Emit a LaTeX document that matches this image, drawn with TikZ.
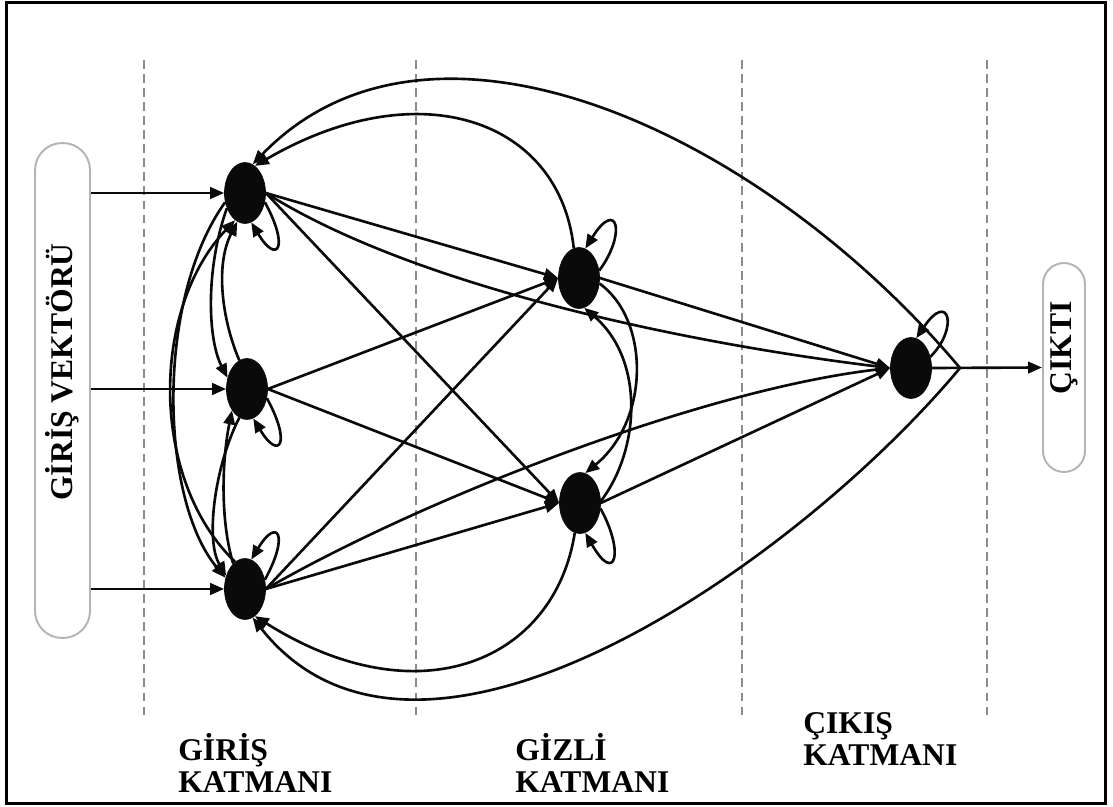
\documentclass[tikz,border=0pt]{standalone}
\usepackage{fontspec}
\setmainfont{Liberation Serif}
\usetikzlibrary{arrows.meta,shapes.geometric,calc}
\definecolor{Ink}{HTML}{0A0A0A}
\definecolor{Rule}{HTML}{8C8C8C}
\definecolor{Shell}{HTML}{B4B4B4}
\tikzset{
 neuron/.style={ellipse,fill=Ink,draw=Ink,minimum width=0.82cm,minimum height=1.22cm,inner sep=0pt},
 vecbox/.style={draw=Shell,line width=1.1pt,fill=white,inner sep=0pt},
 vectext/.style={rotate=90,font=\fontsize{18}{19}\selectfont\bfseries,inner sep=0pt},
 lbl/.style={font=\fontsize{18}{18.5}\selectfont\bfseries,align=left,inner sep=0pt,anchor=north west},
 arr/.style={-{Triangle[length=2.8mm,width=2.3mm]},line width=1.5pt,draw=Ink},
 guide/.style={draw=Rule,dashed,dash pattern=on 5pt off 3pt,line width=0.9pt}
}
\begin{document}
\begin{tikzpicture}[x=0.02cm,y=0.02cm]
\useasboundingbox (0,0) rectangle (1113,-807);
\draw[line width=1.7pt] (6.5,-2.5) rectangle (1105.5,-803.5);
\foreach \x in {144,416,742,987} \draw[guide] (\x,-60) -- (\x,-718);
\node[vecbox,rounded corners=0.54cm,minimum width=1.1cm,minimum height=9.9cm] (vec) at (62.5,-390.5) {};
\node[vectext] (vectxt) at (62,-372) {GİRİŞ VEKTÖRÜ};
\node[vecbox,rounded corners=0.42cm,minimum width=0.84cm,minimum height=4.18cm] (out) at (1064,-367.5) {};
\node[vectext] (outtxt) at (1064,-348) {ÇIKTI};
\node[neuron] (i1) at (245,-193) {};
\node[neuron] (i2) at (247,-389) {};
\node[neuron] (i3) at (245,-589) {};
\node[neuron] (h1) at (579,-278) {};
\node[neuron] (h2) at (580,-503) {};
\node[neuron] (o) at (911,-368) {};
\coordinate (tap) at (960,-368);
\foreach \n in {i1,i2,i3} \draw[arr] (vec.east |- \n) -- (\n.west);
\foreach \a/\b in {i1/h1,i1/h2,i2/h1,i2/h2,i3/h1,i3/h2,h1/o,h2/o} \draw[arr] (\a.east) -- (\b.west);
\draw[arr] (i1.east) .. controls (420,-290) and (700,-345) .. (o.west);
\draw[arr] (i3.east) .. controls (420,-500) and (700,-390) .. (o.west);
\draw[arr] (o.east) -- (out.west);
\draw[arr] (tap) .. controls (760,-130) and (430,20) .. (i1.75);
\draw[arr] (tap) .. controls (800,-560) and (420,-830) .. (i3.-75);
\draw[arr] (h1.100) .. controls (560,-120) and (420,-70) .. (i1.70);
\draw[arr] (h2.-100) .. controls (555,-660) and (420,-720) .. (i3.-70);
\draw[arr] (h1.-15) .. controls (650,-320) and (650,-420) .. (h2.80);
\draw[arr] (h2.5) .. controls (640,-450) and (645,-360) .. (h1.-80);
\draw[arr] (i1.205) .. controls (155,-300) and (160,-500) .. (i3.150);
\draw[arr] (i3.110) .. controls (150,-480) and (150,-310) .. (i1.250);
\draw[arr] (i1.220) .. controls (205,-270) and (208,-340) .. (i2.150);
\draw[arr] (i2.105) .. controls (222,-320) and (215,-265) .. (i1.255);
\draw[arr] (i2.255) .. controls (215,-465) and (205,-540) .. (i3.145);
\draw[arr] (i3.115) .. controls (220,-520) and (222,-460) .. (i2.235);
\draw[arr] (i1.-25) .. controls ($(i1)+(45,-55)$) and ($(i1)+(32,-72)$) .. (i1.-78);
\draw[arr] (i2.-25) .. controls ($(i2)+(45,-55)$) and ($(i2)+(32,-72)$) .. (i2.-78);
\draw[arr] (i3.25) .. controls ($(i3)+(45,55)$) and ($(i3)+(32,72)$) .. (i3.78);
\draw[arr] (h1.20) .. controls ($(h1)+(48,45)$) and ($(h1)+(38,80)$) .. (h1.78);
\draw[arr] (h2.-15) .. controls ($(h2)+(45,-50)$) and ($(h2)+(35,-82)$) .. (h2.-80);
\draw[arr] (o.30) .. controls ($(o)+(48,40)$) and ($(o)+(38,78)$) .. (o.80);
\node[lbl] (lin) at (178,-733) {GİRİŞ\\KATMANI};
\node[lbl] (lhid) at (515,-733) {GİZLİ\\KATMANI};
\node[lbl] (lout) at (803,-712) {ÇIKIŞ\\KATMANI};
\end{tikzpicture}
\end{document}
